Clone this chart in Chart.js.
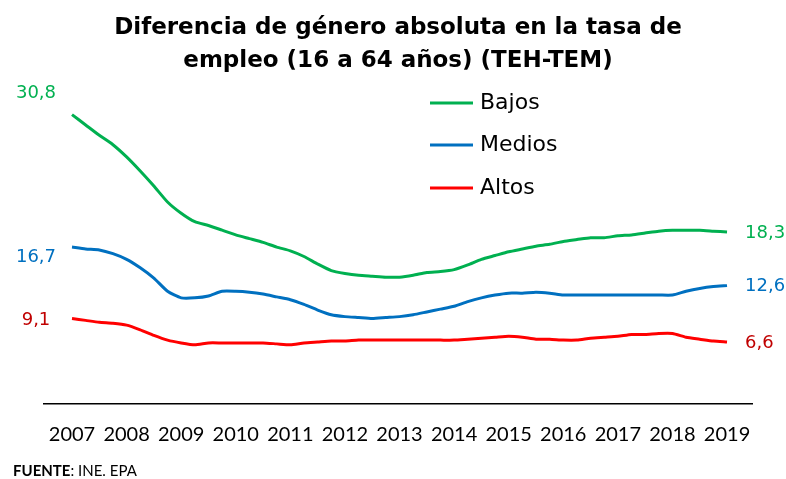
<!DOCTYPE html>
<html><head><meta charset="utf-8">
<script src="https://cdn.jsdelivr.net/npm/chart.js@4.4.0/dist/chart.umd.min.js"></script>
<style>html,body{margin:0;padding:0;background:#fff;}#wrap{width:786px;height:479px;}</style>
</head><body><div id="wrap"><canvas id="c" width="786" height="479"></canvas></div>
<script>
// Tick labels (one per year, first quarter of each year)
const years = ['2007','2008','2009','2010','2011','2012','2013','2014','2015','2016','2017','2018','2019'];
const seriesNames = ['Bajos','Medios','Altos'];
// Quarterly values, 2007 to 2019 (49 points)
const bajos = [30.8,29.7,28.6,27.6,26.3,24.8,23.2,21.5,20.3,19.4,19.0,18.5,18.0,17.6,17.2,16.7,16.3,15.7,14.9,14.2,13.9,13.7,13.6,13.5,13.5,13.7,14.0,14.1,14.3,14.8,15.4,15.8,16.2,16.5,16.8,17.0,17.3,17.5,17.7,17.7,17.9,18.0,18.2,18.4,18.5,18.5,18.5,18.4,18.3];
const medios = [16.7,16.5,16.4,16.0,15.4,14.5,13.4,12.0,11.3,11.3,11.5,12.0,12.0,11.9,11.7,11.4,11.1,10.6,10.0,9.5,9.3,9.2,9.1,9.2,9.3,9.5,9.8,10.1,10.4,10.9,11.3,11.6,11.8,11.8,11.9,11.8,11.6,11.6,11.6,11.6,11.6,11.6,11.6,11.6,11.6,12.0,12.3,12.5,12.6];
const altos = [9.1,8.9,8.7,8.6,8.4,7.9,7.3,6.8,6.5,6.3,6.5,6.5,6.5,6.5,6.5,6.4,6.3,6.5,6.6,6.7,6.7,6.8,6.8,6.8,6.8,6.8,6.8,6.8,6.8,6.9,7.0,7.1,7.2,7.1,6.9,6.9,6.8,6.8,7.0,7.1,7.2,7.4,7.4,7.5,7.5,7.1,6.9,6.7,6.6];

const lineColors = ['#00B050','#0070C0','#FF0000'];
const labelColors = ['#00B050','#0070C0','#C00000'];
const seriesValues = [bajos, medios, altos];

const fmt = v => v.toFixed(1).replace('.', ',');

const endLabels = {
  id: 'endLabels',
  afterDatasetsDraw(chart) {
    const ctx = chart.ctx;
    const leftDy = [-21, 10, 2];
    ctx.save();
    ctx.font = '18px "DejaVu Sans"';
    ctx.textBaseline = 'middle';
    chart.data.datasets.forEach((ds, i) => {
      const pts = chart.getDatasetMeta(i).data;
      const first = pts[0], last = pts[pts.length - 1];
      const vals = seriesValues[i];
      ctx.fillStyle = labelColors[i];
      ctx.textAlign = 'center';
      ctx.fillText(fmt(vals[0]), first.x - 36, first.y + leftDy[i]);
      ctx.textAlign = 'left';
      ctx.fillText(fmt(vals[vals.length - 1]), last.x + 18, last.y + 1);
    });
    ctx.restore();
  }
};

const customLegend = {
  id: 'customLegend',
  afterDraw(chart) {
    const ctx = chart.ctx;
    const ys = [103, 145, 188];
    ctx.save();
    chart.data.datasets.forEach((ds, i) => {
      const y = ys[i];
      ctx.strokeStyle = ds.borderColor;
      ctx.lineWidth = 3;
      ctx.beginPath(); ctx.moveTo(430, y); ctx.lineTo(473, y); ctx.stroke();
      ctx.fillStyle = '#000';
      ctx.font = '22px "DejaVu Sans"';
      ctx.textAlign = 'left';
      ctx.textBaseline = 'middle';
      ctx.fillText(ds.label, 480, y);
    });
    // source note
    ctx.textBaseline = 'middle';
    ctx.font = 'bold 15px Lato';
    ctx.fillStyle = '#000';
    ctx.fillText('FUENTE', 13, 471);
    const w = ctx.measureText('FUENTE').width;
    ctx.font = '15px Lato';
    ctx.fillText(': INE. EPA', 13 + w, 471);
    ctx.restore();
  }
};

new Chart(document.getElementById('c'), {
  type: 'line',
  data: {
    datasets: seriesNames.map((name, i) => ({
      label: name,
      data: seriesValues[i].map((v, k) => ({ x: k, y: v })),
      borderColor: lineColors[i],
      backgroundColor: lineColors[i],
      borderWidth: 3,
      pointRadius: 0,
      tension: 0.2,
      fill: false
    }))
  },
  options: {
    responsive: false,
    animation: false,
    devicePixelRatio: 1,
    layout: { padding: { left: 44, right: 34, top: 0, bottom: 0 } },
    plugins: {
      legend: { display: false },
      tooltip: { enabled: false },
      title: {
        display: true,
        text: ['Diferencia de género absoluta en la tasa de', 'empleo (16 a 64 años) (TEH-TEM)'],
        color: '#000',
        font: { family: 'DejaVu Sans', size: 23, weight: 'bold', lineHeight: 33 / 23 },
        padding: { top: 12, bottom: 0 }
      }
    },
    scales: {
      x: {
        type: 'linear',
        min: -2.052,
        max: 49.83,
        grid: { display: false, drawTicks: false },
        border: { display: true, color: '#000', width: 1.5 },
        afterBuildTicks: s => { s.ticks = years.map((y, i) => ({ value: i * 4 })); },
        afterFit: s => { s.height = 75; },
        ticks: {
          autoSkip: false, maxRotation: 0, minRotation: 0, padding: 19,
          color: '#000', font: { family: 'Lato', size: 20 },
          callback: v => years[Math.round(v / 4)]
        }
      },
      y: { display: false, min: 0, max: 34.7 }
    }
  },
  plugins: [endLabels, customLegend]
});
</script></body></html>
